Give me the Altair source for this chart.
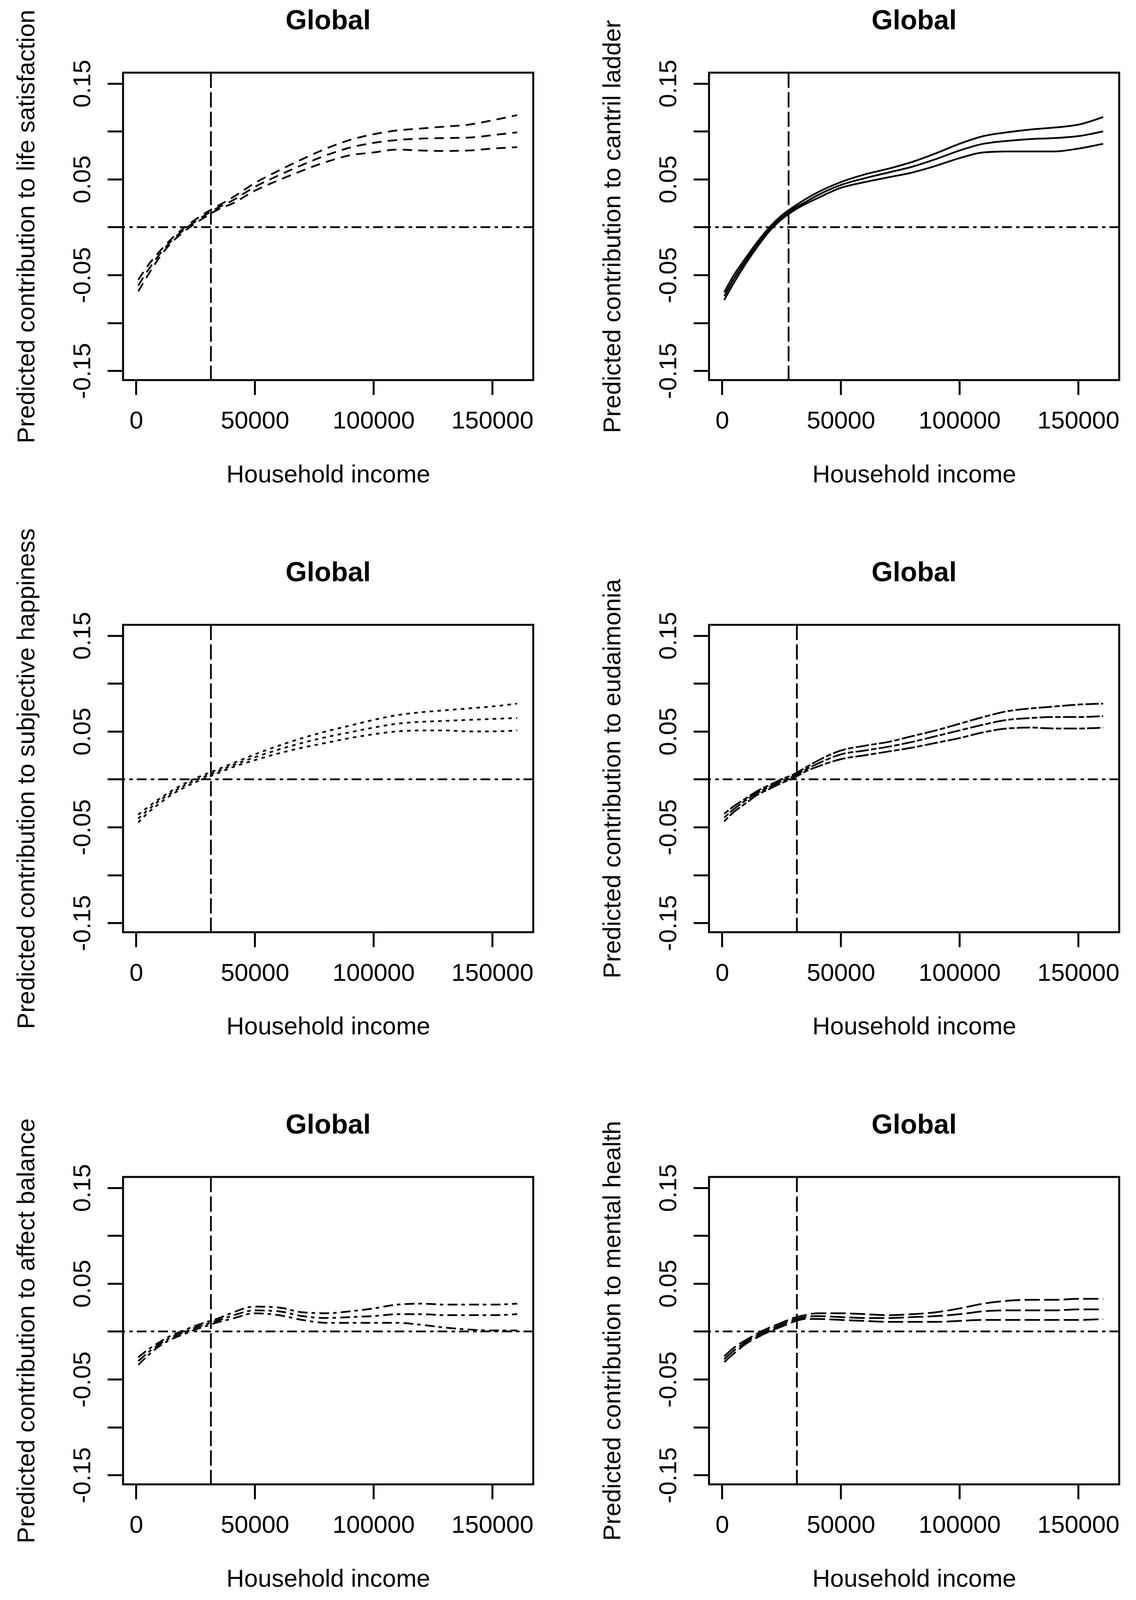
import altair as alt
import pandas as pd

FONT = "Liberation Sans"

# household income grid shared by every curve
income = [900, 5000, 10000, 15000, 20000, 25000, 30000, 35000, 40000, 50000, 60000,
          70000, 80000, 90000, 100000, 110000, 120000, 130000, 140000, 150000, 160500]

# life satisfaction
life_up = [-0.055, -0.040, -0.025, -0.012, -0.001, 0.008, 0.016, 0.023, 0.030, 0.046, 0.059,
           0.071, 0.082, 0.091, 0.097, 0.101, 0.103, 0.105, 0.107, 0.1115, 0.117]
life_mid = [-0.061, -0.045, -0.028, -0.014, -0.003, 0.006, 0.014, 0.021, 0.027, 0.042, 0.054,
            0.065, 0.075, 0.083, 0.088, 0.091, 0.0925, 0.093, 0.0935, 0.096, 0.099]
life_lo = [-0.067, -0.050, -0.031, -0.016, -0.005, 0.004, 0.012, 0.019, 0.024, 0.038, 0.049,
           0.059, 0.068, 0.075, 0.078, 0.081, 0.080, 0.0795, 0.080, 0.082, 0.0835]

# cantril ladder
cantril_up = [-0.068, -0.050, -0.032, -0.015, 0.000, 0.012, 0.021, 0.029, 0.036, 0.047, 0.055,
              0.061, 0.068, 0.077, 0.087, 0.095, 0.099, 0.102, 0.104, 0.107, 0.115]
cantril_mid = [-0.072, -0.054, -0.035, -0.017, -0.002, 0.010, 0.019, 0.026, 0.033, 0.044, 0.051,
               0.057, 0.063, 0.071, 0.080, 0.087, 0.090, 0.092, 0.093, 0.095, 0.100]
cantril_lo = [-0.076, -0.058, -0.038, -0.020, -0.004, 0.008, 0.017, 0.024, 0.030, 0.041, 0.047,
              0.052, 0.057, 0.064, 0.072, 0.078, 0.079, 0.079, 0.079, 0.082, 0.087]

# subjective happiness
happy_up = [-0.037, -0.029, -0.020, -0.012, -0.005, 0.001, 0.006, 0.011, 0.016, 0.026, 0.035,
            0.043, 0.050, 0.056, 0.062, 0.067, 0.070, 0.072, 0.074, 0.076, 0.079]
happy_mid = [-0.041, -0.032, -0.022, -0.014, -0.007, -0.001, 0.004, 0.009, 0.014, 0.023, 0.031,
             0.038, 0.044, 0.049, 0.054, 0.058, 0.060, 0.061, 0.062, 0.063, 0.064]
happy_lo = [-0.045, -0.035, -0.025, -0.016, -0.009, -0.003, 0.002, 0.007, 0.012, 0.020, 0.027,
            0.033, 0.038, 0.043, 0.047, 0.050, 0.051, 0.051, 0.050, 0.050, 0.051]

# eudaimonia
eud_up = [-0.036, -0.028, -0.020, -0.012, -0.006, 0.000, 0.005, 0.012, 0.019, 0.030, 0.035,
          0.039, 0.045, 0.051, 0.058, 0.065, 0.071, 0.074, 0.076, 0.078, 0.079]
eud_mid = [-0.040, -0.031, -0.022, -0.014, -0.008, -0.002, 0.003, 0.010, 0.016, 0.026, 0.030,
           0.034, 0.039, 0.045, 0.051, 0.057, 0.062, 0.064, 0.065, 0.065, 0.066]
eud_lo = [-0.044, -0.034, -0.025, -0.016, -0.010, -0.004, 0.001, 0.008, 0.013, 0.021, 0.025,
          0.029, 0.033, 0.038, 0.043, 0.049, 0.053, 0.054, 0.053, 0.053, 0.054]

# affect balance
affect_up = [-0.027, -0.019, -0.011, -0.004, 0.001, 0.006, 0.010, 0.014, 0.019, 0.026, 0.025,
             0.020, 0.019, 0.021, 0.024, 0.028, 0.029, 0.028, 0.028, 0.028, 0.029]
affect_mid = [-0.031, -0.022, -0.013, -0.006, -0.001, 0.004, 0.008, 0.012, 0.016, 0.022, 0.021,
              0.016, 0.014, 0.015, 0.016, 0.018, 0.018, 0.017, 0.017, 0.017, 0.018]
affect_lo = [-0.035, -0.025, -0.015, -0.008, -0.003, 0.002, 0.006, 0.010, 0.013, 0.019, 0.017,
             0.012, 0.009, 0.009, 0.009, 0.009, 0.007, 0.004, 0.002, 0.001, 0.001]

# mental health
mental_up = [-0.026, -0.017, -0.009, -0.002, 0.004, 0.009, 0.014, 0.017, 0.019, 0.019, 0.018,
             0.017, 0.018, 0.020, 0.024, 0.029, 0.032, 0.033, 0.033, 0.034, 0.034]
mental_mid = [-0.029, -0.020, -0.011, -0.004, 0.002, 0.007, 0.012, 0.015, 0.016, 0.015, 0.014,
              0.014, 0.015, 0.016, 0.018, 0.021, 0.022, 0.022, 0.022, 0.023, 0.023]
mental_lo = [-0.032, -0.023, -0.013, -0.006, 0.000, 0.005, 0.010, 0.013, 0.013, 0.012, 0.011,
             0.010, 0.010, 0.010, 0.011, 0.012, 0.012, 0.012, 0.012, 0.012, 0.013]

outcomes = ["life satisfaction", "cantril ladder", "subjective happiness",
            "eudaimonia", "affect balance", "mental health"]
cutoffs = [31500, 28000, 31500, 31500, 31500, 31500]
x_ticks = [0, 50000, 100000, 150000]
y_ticks = [-0.15, -0.10, -0.05, 0.0, 0.05, 0.10, 0.15]

curves = [
    (life_up, life_mid, life_lo),
    (cantril_up, cantril_mid, cantril_lo),
    (happy_up, happy_mid, happy_lo),
    (eud_up, eud_mid, eud_lo),
    (affect_up, affect_mid, affect_lo),
    (mental_up, mental_mid, mental_lo),
]

# R line types, scaled to the picture
dashes = [[24, 16], None, [9, 11], [14, 6, 34, 6], [25, 10, 9, 11], [39, 11]]

# vertical squeeze so the whole grid fits in the visible page height
F = 0.942
W, H = 1050, round(835 * F)
X_DOMAIN = [-5510, 167270]
Y_DOMAIN = [-0.1597, 0.1613]
LW = 4.5
BOX_TOP = 195 * F

y_label_expr = (
    "abs(datum.value) < 0.01 || abs(abs(datum.value) - 0.1) < 0.01 ? '' : "
    "(datum.value < 0 ? '-' : '') + format(abs(datum.value), '.2f')"
)


def spacer(df, x1, x2, y):
    # invisible rule that stretches the page bounds
    return alt.Chart(df).mark_rule(strokeOpacity=0, strokeWidth=1, color="white").encode(
        x=alt.value(x1), x2=alt.value(x2), y=alt.value(y), y2=alt.value(y)
    )


def make_panel(i):
    up, mid, lo = curves[i]
    df = pd.DataFrame({
        "income": income * 3,
        "value": up + mid + lo,
        "band": ["upper"] * len(up) + ["fit"] * len(mid) + ["lower"] * len(lo),
    })
    one = pd.DataFrame({"k": [0]})
    xs = alt.Scale(domain=X_DOMAIN, nice=False, zero=False)
    ys = alt.Scale(domain=Y_DOMAIN, nice=False, zero=False)

    x_axis = alt.Axis(
        values=x_ticks, format="d", grid=False, domain=False,
        tickSize=40 * F, tickWidth=5, tickColor="black",
        labelFontSize=63, labelFont=FONT, labelColor="black",
        labelPadding=131.5 * F - 40 * F, labelBaseline="alphabetic", labelLimit=0,
        labelFlush=False, labelOverlap=False, labelBound=False,
        title="Household income", titleFontSize=63, titleFont=FONT,
        titleFontWeight="normal", titleColor="black",
        titleX=W / 2, titleY=277.5 * F, titleAlign="center", titleBaseline="alphabetic",
    )
    y_axis = alt.Axis(
        values=y_ticks, labelExpr=y_label_expr, grid=False, domain=False,
        tickSize=40, tickWidth=5, tickColor="black",
        labelFontSize=63, labelFont=FONT, labelColor="black",
        labelAngle=270, labelAlign="center", labelBaseline="alphabetic", labelLimit=0,
        labelPadding=44.5, labelFlush=False, labelOverlap=False, labelBound=False,
        title="Predicted contribution to " + outcomes[i],
        titleFontSize=63, titleFont=FONT, titleFontWeight="normal", titleColor="black",
        titleAngle=270, titleX=-227.5, titleY=H / 2, titleLimit=0,
        titleAlign="center", titleBaseline="alphabetic",
    )

    line_kw = dict(color="black", strokeWidth=LW, interpolate="monotone")
    if dashes[i] is not None:
        line_kw["strokeDash"] = dashes[i]

    lines = alt.Chart(df).mark_line(**line_kw).encode(
        x=alt.X("income:Q", scale=xs, axis=x_axis),
        y=alt.Y("value:Q", scale=ys, axis=y_axis),
        detail="band:N",
        order="income:Q",
    )
    zero_line = alt.Chart(one).mark_rule(
        color="black", strokeWidth=LW, strokeDash=[25, 10, 9, 11]
    ).encode(y=alt.Y(datum=0, scale=ys, axis=y_axis))
    cut_line = alt.Chart(one).mark_rule(
        color="black", strokeWidth=LW, strokeDash=[39, 11]
    ).encode(x=alt.X(datum=cutoffs[i], scale=xs, axis=x_axis))
    title = alt.Chart(one).mark_text(
        text="Global", font=FONT, fontSize=70, fontWeight="bold", color="black",
        align="center", baseline="alphabetic",
    ).encode(x=alt.value(W / 2), y=alt.value(-118 * F))

    layers = [lines, zero_line, cut_line, title]
    if i == 0:
        layers.append(spacer(one, -304, -284, -(BOX_TOP - 8) + 0.5))
    if i >= 4:
        layers.append(spacer(one, 0, 20, H + 275))

    return alt.layer(*layers).properties(width=W, height=H)


panels = [make_panel(i) for i in range(6)]

chart = (
    alt.concat(*panels, columns=2, spacing={"row": round(1500.5 * F - H, 1), "column": 450},
               bounds="flush")
    .properties(padding=0, background="white")
    .configure_view(stroke="black", strokeWidth=5)
)

chart.save("out.html", embed_options={"renderer": "svg", "actions": False})
